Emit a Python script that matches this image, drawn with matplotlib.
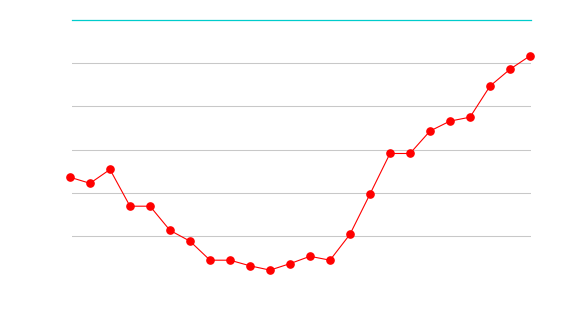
import matplotlib
matplotlib.use("Agg")
import matplotlib.pyplot as plt

# Data (arbitrary units, 0..60 scale)
x_index = list(range(24))
values = [23.6, 22.2, 25.4, 16.9, 16.9, 11.3, 8.8, 4.4, 4.4, 3.1, 2.1, 3.6,
          5.3, 4.4, 10.4, 19.7, 29.1, 29.1, 34.3, 36.6, 37.5, 44.7, 48.6, 51.7]
grid_levels = [10, 20, 30, 40, 50]
top_level = 60

W, H = 570, 320
fig = plt.figure(figsize=(W / 100, H / 100), dpi=100)
left, right = 72 / W, 530.7 / W
bottom, top = (H - 279.2) / H, (H - 20) / H
ax = fig.add_axes([left, bottom, right - left, top - bottom])
ax.set_xlim(0.1, 23.035)
ax.set_ylim(0, top_level)

for lv in grid_levels:
    ax.axhline(lv, color="#c8c8c8", linewidth=0.75, zorder=1, snap=True)
ax.axhline(top_level, color="#00cccc", linewidth=0.9, zorder=1, clip_on=False, snap=True)

ax.plot(x_index, values, color="#ff0000", linewidth=0.8, marker="o",
        markersize=5.2, markerfacecolor="#ff0000", markeredgecolor="#ff0000",
        clip_on=False, zorder=3)

for s in ax.spines.values():
    s.set_visible(False)
ax.set_xticks([])
ax.set_yticks([])
ax.patch.set_alpha(0)

fig.savefig("out.png", dpi=100, facecolor="white")
